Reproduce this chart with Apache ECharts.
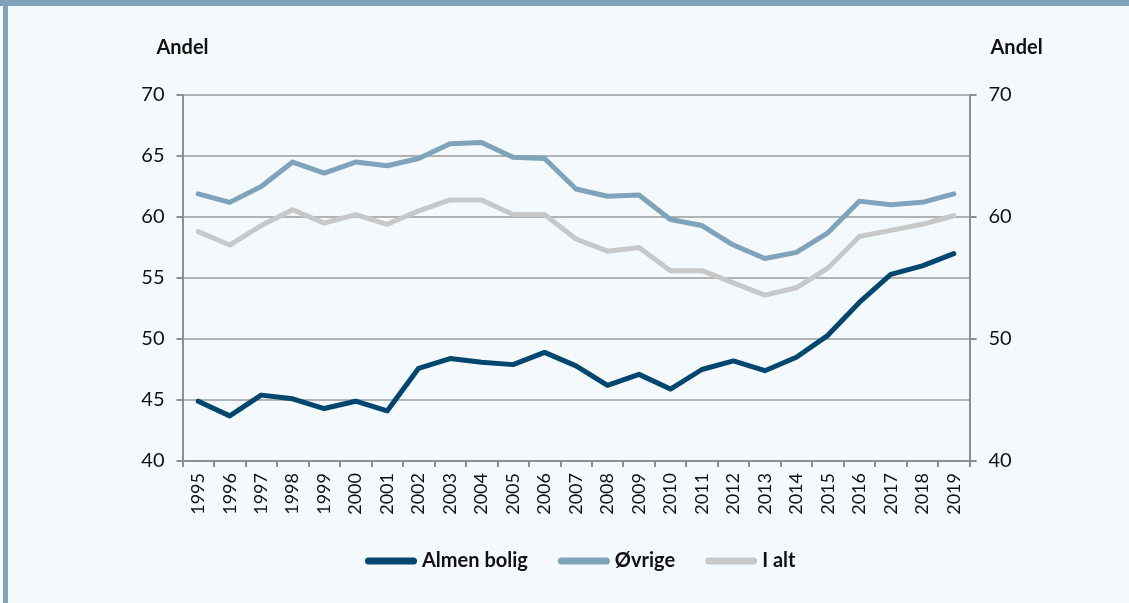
<!DOCTYPE html>
<html>
<head>
<meta charset="utf-8">
<script src="https://cdn.jsdelivr.net/npm/echarts@6/dist/echarts.min.js"></script>
<style>
html,body{margin:0;padding:0;background:#f4f9fd;}
#chart{width:1129px;height:603px;}
</style>
</head>
<body>
<div id="chart"></div>
<script>
var years = ['1995','1996','1997','1998','1999','2000','2001','2002','2003','2004','2005','2006','2007','2008','2009','2010','2011','2012','2013','2014','2015','2016','2017','2018','2019'];
var almenBolig = [44.9,43.7,45.4,45.1,44.3,44.9,44.1,47.6,48.4,48.1,47.9,48.9,47.8,46.2,47.1,45.9,47.5,48.2,47.4,48.5,50.3,53.0,55.3,56.0,57.0];
var ovrige = [61.9,61.2,62.5,64.5,63.6,64.5,64.2,64.8,66.0,66.1,64.9,64.8,62.3,61.7,61.8,59.8,59.3,57.7,56.6,57.1,58.7,61.3,61.0,61.2,61.9];
var iAlt = [58.8,57.7,59.3,60.6,59.5,60.2,59.4,60.5,61.4,61.4,60.2,60.2,58.2,57.2,57.5,55.6,55.6,54.6,53.6,54.2,55.8,58.4,58.9,59.4,60.1];
var seriesNames = ['Almen bolig','Øvrige','I alt'];
var yLeftTicks = {min:40,max:70,interval:5};
var yRightTicks = {min:40,max:70,interval:10};

var FONT = 'Lato, "Noto Sans", sans-serif';
var chart = echarts.init(document.getElementById('chart'), null, {renderer:'canvas'});
var axisColor = '#8e8e8e';
function lineSeries(name, data, color, z){
  return {name:name,type:'line',data:data,symbol:'none',z:z,
    lineStyle:{color:color,width:5,cap:'round',join:'round'},itemStyle:{color:color}};
}
chart.setOption({
  backgroundColor:'#f4f9fd',
  animation:false,
  textStyle:{fontFamily:FONT},
  graphic:[
    {type:'rect',shape:{x:0,y:0,width:1129,height:6},style:{fill:'#7fa3ba'},silent:true},
    {type:'rect',shape:{x:3,y:0,width:5,height:603},style:{fill:'#7fa3ba'},silent:true}
  ],
  grid:{left:182.5,right:159.5,top:95,bottom:142,containLabel:false},
  legend:{
    data:seriesNames,left:360,top:546,itemWidth:52,itemHeight:7,itemGap:30,
    icon:'path://M3.5,0 L48.5,0 A3.5,3.5 0 0 1 48.5,7 L3.5,7 A3.5,3.5 0 0 1 3.5,0 Z',
    textStyle:{fontFamily:FONT,fontWeight:'bold',fontSize:20,color:'#111'}
  },
  xAxis:{
    type:'category',data:years,boundaryGap:true,
    axisLine:{lineStyle:{color:axisColor,width:2}},
    axisTick:{show:true,interval:0,length:6,lineStyle:{color:axisColor,width:2}},
    axisLabel:{interval:0,rotate:90,margin:12,fontSize:18,color:'#111',fontFamily:FONT},
    splitLine:{show:false}
  },
  yAxis:[
    {type:'value',position:'left',min:yLeftTicks.min,max:yLeftTicks.max,interval:yLeftTicks.interval,
      name:'Andel',nameLocation:'end',nameGap:37,
      nameTextStyle:{fontFamily:FONT,fontWeight:'bold',fontSize:20,color:'#111',align:'center',padding:[0,0,0,0]},
      axisLine:{show:true,lineStyle:{color:axisColor,width:2}},
      axisTick:{show:true,length:6,lineStyle:{color:axisColor,width:2}},
      axisLabel:{margin:18,fontSize:20,color:'#111',fontFamily:FONT},
      splitLine:{show:true,lineStyle:{color:'#9a9a9a',width:1.6}}
    },
    {type:'value',position:'right',min:yRightTicks.min,max:yRightTicks.max,interval:yRightTicks.interval,
      name:'Andel',nameLocation:'end',nameGap:37,
      nameTextStyle:{fontFamily:FONT,fontWeight:'bold',fontSize:20,color:'#111',align:'left',padding:[0,0,0,21]},
      axisLine:{show:true,lineStyle:{color:axisColor,width:2}},
      axisTick:{show:true,length:7,lineStyle:{color:axisColor,width:2}},
      axisLabel:{margin:19,fontSize:20,color:'#111',fontFamily:FONT},
      splitLine:{show:false}
    }
  ],
  series:[
    lineSeries(seriesNames[0], almenBolig, '#00466f', 5),
    lineSeries(seriesNames[1], ovrige, '#7fa3ba', 4),
    lineSeries(seriesNames[2], iAlt, '#c8c8c8', 3)
  ]
});
</script>
</body>
</html>
